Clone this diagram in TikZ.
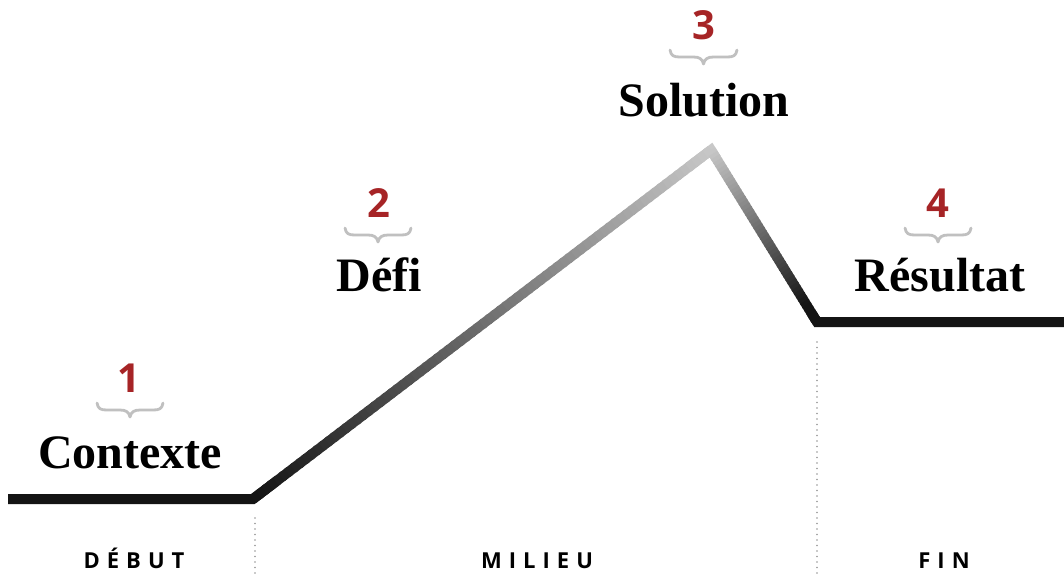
\documentclass[tikz,border=0pt]{standalone}
\usepackage{fontspec}
\setmainfont{Liberation Serif}
\newfontfamily\numfont{Open Sans}
\usetikzlibrary{calc}
\definecolor{numred}{RGB}{166,36,38}
\definecolor{bracegray}{RGB}{192,192,192}
\definecolor{linedark}{RGB}{20,20,20}
\definecolor{peakgray}{RGB}{200,200,200}
\definecolor{dotgray}{RGB}{150,150,150}
\newcommand\numbrace[3]{%
  \pgfmathsetmacro\bm{(#1+#2)/2}%
  \draw[bracestyle] (#1,#3) .. controls (#1+1,#3+6) and (#1+4,#3+7) .. (#1+10,#3+7)
    -- (\bm-10,#3+7) .. controls (\bm-4,#3+7) and (\bm-1,#3+9) .. (\bm,#3+14)
    .. controls (\bm+1,#3+9) and (\bm+4,#3+7) .. (\bm+10,#3+7)
    -- (#2-10,#3+7) .. controls (#2-4,#3+7) and (#2-1,#3+6) .. (#2,#3);}
\begin{document}
\begin{tikzpicture}[x=1pt,y=-1pt,
  mainlbl/.style={font=\fontsize{48}{50}\selectfont\bfseries, inner sep=0pt, text=black},
  numlbl/.style={font=\numfont\bfseries\fontsize{40}{40}\selectfont, text=numred, inner sep=0pt},
  partlbl/.style={font=\numfont\bfseries\fontsize{22}{22}\selectfont\addfontfeature{LetterSpace=32}, inner sep=0pt, text=black},
  bracestyle/.style={draw=bracegray, line width=2.8pt, line cap=round, line join=round},
  curve/.style={line width=10pt, line join=miter},
  dots/.style={draw=dotgray, line width=1.8pt, line cap=round, dash pattern=on 0pt off 5.5pt}]
\fill[white] (0,0) rectangle (1064,574);
\useasboundingbox (0,0) rectangle (1064,574);
% path points
\coordinate (S) at (8,499);
\coordinate (A) at (253,499);
\coordinate (P) at (711,150);
\coordinate (B) at (817,322);
\coordinate (E) at (1064,322);
% underlay for corners
\draw[curve, linedark] (S) -- (A) -- ($(A)!0.05!(P)$);
\draw[curve, peakgray] ($(A)!0.95!(P)$) -- (P) -- ($(P)!0.05!(B)$);
\draw[curve, linedark] ($(P)!0.95!(B)$) -- (B) -- (E);
% gradient on rising segment
\foreach \i in {0,...,79}{
  \pgfmathsetmacro\ta{\i/80}
  \pgfmathsetmacro\tb{min((\i+1.4)/80,1)}
  \pgfmathtruncatemacro\g{20+(\i+0.5)/80*180}
  \definecolor{tmpc}{RGB}{\g,\g,\g}
  \draw[line width=10pt, tmpc] ($(A)!\ta!(P)$) -- ($(A)!\tb!(P)$);
}
% gradient on falling segment
\foreach \i in {0,...,49}{
  \pgfmathsetmacro\ta{\i/50}
  \pgfmathsetmacro\tb{min((\i+1.4)/50,1)}
  \pgfmathtruncatemacro\g{max(20,200-(\i+0.5)/50*200)}
  \definecolor{tmpc}{RGB}{\g,\g,\g}
  \draw[line width=10pt, tmpc] ($(P)!\ta!(B)$) -- ($(P)!\tb!(B)$);
}
% dotted separators
\coordinate (d1t) at (255,518);
\coordinate (d1b) at (255,574);
\coordinate (d2t) at (817,342);
\coordinate (d2b) at (817,574);
\draw[dots] (d1t) -- (d1b);
\draw[dots] (d2t) -- (d2b);
% numbers
\node[numlbl, anchor=base] (n1) at (129,392) {1};
\node[numlbl, anchor=base] (n2) at (379,217) {2};
\node[numlbl, anchor=base] (n3) at (704,39) {3};
\node[numlbl, anchor=base] (n4) at (938,217) {4};
% braces
\numbrace{97}{163}{403}
\numbrace{345}{411}{228}
\numbrace{670}{737}{50}
\numbrace{905}{971}{228}
% step labels
\node[mainlbl, anchor=base] (contexte) at (130,468) {Contexte};
\node[mainlbl, anchor=base] (defi) at (379,291) {Défi};
\node[mainlbl, anchor=base] (solution) at (704,116) {Solution};
\node[mainlbl, anchor=base] (resultat) at (940,291) {Résultat};
% part labels
\node[partlbl, anchor=base] (debut) at (134,568) {DÉBUT};
\node[partlbl, anchor=base] (milieu) at (537,568) {MILIEU};
\node[partlbl, anchor=base] (fin) at (944,568) {FIN};
\end{tikzpicture}
\end{document}
